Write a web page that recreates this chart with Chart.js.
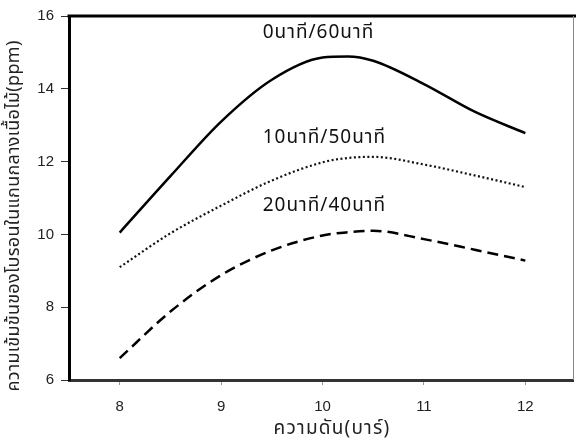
<!DOCTYPE html>
<html>
<head>
<meta charset="utf-8">
<script src="https://cdn.jsdelivr.net/npm/chart.js@4"></script>
<style>
  html, body { margin: 0; padding: 0; background: #fff; }
  #wrap { width: 576px; height: 443px; }
</style>
</head>
<body>
<div id="wrap"><canvas id="c" width="576" height="443"></canvas></div>
<script>
// ---- data ----
const pressure = [8, 8.5, 9, 9.5, 10, 10.25, 10.5, 11, 11.5, 12];
const series0_60 = [10.05, 11.6, 13.1, 14.25, 14.86, 14.89, 14.77, 14.13, 13.37, 12.78];
const series10_50 = [9.1, 10.03, 10.79, 11.48, 11.98, 12.1, 12.13, 11.92, 11.62, 11.3];
const series20_40 = [6.6, 7.88, 8.88, 9.56, 9.97, 10.06, 10.1, 9.87, 9.58, 9.28];
const seriesNames = ['0นาที/60นาที', '10นาที/50นาที', '20นาที/40นาที'];
const xTicks = [8, 9, 10, 11, 12];
const yTicks = [6, 8, 10, 12, 14, 16];
const xTitle = 'ความดัน(บาร์)';
const yTitle = 'ความเข้มข้นของโบรอนในแกนกลางเนื้อไม้(ppm)';

const toPts = (ys) => pressure.map((x, i) => ({ x: x, y: ys[i] }));

const thaiFont = 'Tahoma, "Noto Sans Thai", "Noto Sans", "DejaVu Sans", sans-serif';
const numFont = '"Liberation Sans", Arial, sans-serif';

// label anchors (data coordinates)
const labelAnchors = [
  { x: 9.41, y: 15.5 },
  { x: 9.41, y: 12.63 },
  { x: 9.41, y: 10.74 }
];

const decor = {
  id: 'decor',
  afterDraw(chart) {
    const ctx = chart.ctx;
    const a = chart.chartArea;
    const xs = chart.scales.x, ys = chart.scales.y;
    ctx.save();
    // top frame line (thick)
    ctx.strokeStyle = '#000';
    ctx.lineWidth = 3;
    ctx.beginPath();
    ctx.moveTo(a.left - 1.5, a.top);
    ctx.lineTo(576, a.top);
    ctx.stroke();
    // right frame line (thin)
    ctx.strokeStyle = '#888';
    ctx.lineWidth = 1;
    ctx.beginPath();
    ctx.moveTo(a.right + 0.5, a.top);
    ctx.lineTo(a.right + 0.5, a.bottom);
    ctx.stroke();
    // series labels
    ctx.fillStyle = '#111';
    ctx.font = '19px ' + thaiFont;
    ctx.letterSpacing = '1px';
    ctx.textAlign = 'left';
    ctx.textBaseline = 'middle';
    seriesNames.forEach((n, i) => {
      ctx.fillText(n, xs.getPixelForValue(labelAnchors[i].x), ys.getPixelForValue(labelAnchors[i].y));
    });
    // x title
    ctx.fillStyle = '#222';
    ctx.font = '19px ' + thaiFont;
    ctx.letterSpacing = '1.2px';
    ctx.textAlign = 'center';
    ctx.fillText(xTitle, 332, 430);
    // y title
    ctx.translate(15, 216);
    ctx.rotate(-Math.PI / 2);
    ctx.font = '18px ' + thaiFont;
    ctx.letterSpacing = '0.3px';
    ctx.fillText(yTitle, 0, 0);
    ctx.restore();
  }
};

new Chart(document.getElementById('c'), {
  type: 'line',
  data: {
    datasets: [
      { label: seriesNames[0], data: toPts(series0_60), borderColor: '#000', borderWidth: 2.5, pointRadius: 0, cubicInterpolationMode: 'monotone', fill: false },
      { label: seriesNames[1], data: toPts(series10_50), borderColor: '#111', borderWidth: 2.2, borderDash: [2, 2.5], pointRadius: 0, cubicInterpolationMode: 'monotone', fill: false },
      { label: seriesNames[2], data: toPts(series20_40), borderColor: '#000', borderWidth: 2.5, borderDash: [11, 6], pointRadius: 0, cubicInterpolationMode: 'monotone', fill: false }
    ]
  },
  options: {
    responsive: false,
    animation: false,
    devicePixelRatio: 1,
    layout: { padding: { top: 15, right: 3, left: 0, bottom: 0 } },
    plugins: { legend: { display: false }, tooltip: { enabled: false } },
    scales: {
      x: {
        type: 'linear',
        min: 7.5,
        max: 12.47,
        afterFit(s) { s.height = 63; },
        afterBuildTicks(s) { s.ticks = xTicks.map(v => ({ value: v })); },
        grid: { drawOnChartArea: false, drawTicks: true, tickLength: 5, tickColor: '#999', tickWidth: 1 },
        border: { display: true, color: '#333', width: 3 },
        ticks: { color: '#222', font: { family: numFont, size: 15 }, padding: 13, maxRotation: 0 }
      },
      y: {
        type: 'linear',
        min: 6,
        max: 16,
        afterFit(s) { s.width = 69; },
        afterBuildTicks(s) { s.ticks = yTicks.map(v => ({ value: v })); },
        grid: { drawOnChartArea: false, drawTicks: true, tickLength: 8, tickColor: '#333', tickWidth: 1 },
        border: { display: true, color: '#000', width: 3 },
        ticks: { color: '#222', font: { family: numFont, size: 15 }, padding: 7 }
      }
    }
  },
  plugins: [decor]
});
</script>
</body>
</html>
